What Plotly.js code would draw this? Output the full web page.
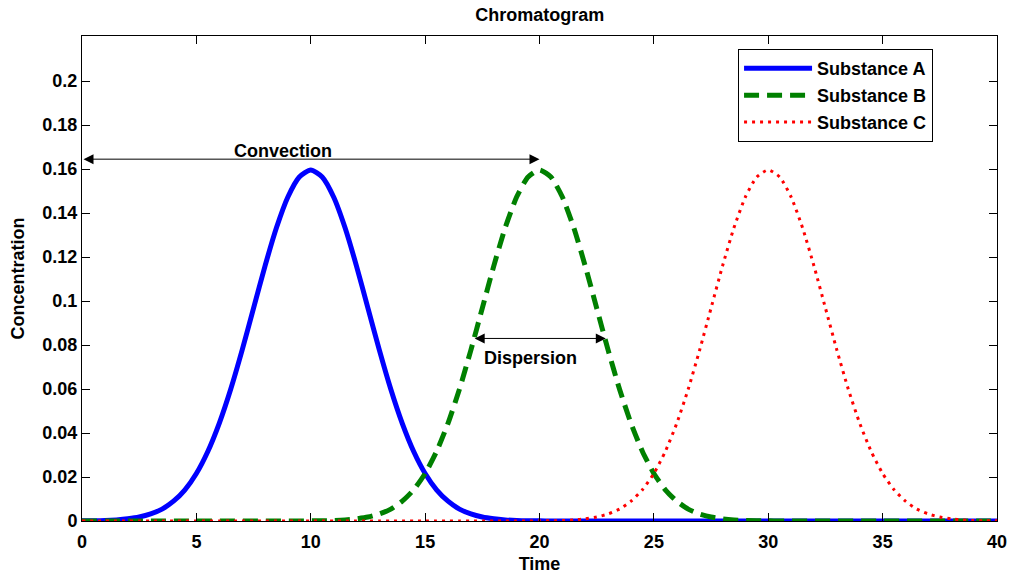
<!DOCTYPE html>
<html>
<head>
<meta charset="utf-8">
<script src="https://cdn.plot.ly/plotly-3.0.1.min.js"></script>
<style>html,body{margin:0;padding:0;background:#fff;}#chart{width:1009px;height:574px;}</style>
</head>
<body>
<div id="chart"></div>
<script>
// Time axis samples
const time = [0,0.5,1,1.5,2,2.5,3,3.5,4,4.5,5,5.5,6,6.5,7,7.5,8,8.5,9,9.5,
  10,10.5,11,11.5,12,12.5,13,13.5,14,14.5,15,15.5,16,16.5,17,17.5,18,18.5,19,19.5,
  20,20.5,21,21.5,22,22.5,23,23.5,24,24.5,25,25.5,26,26.5,27,27.5,28,28.5,29,29.5,
  30,30.5,31,31.5,32,32.5,33,33.5,34,34.5,35,35.5,36,36.5,37,37.5,38,38.5,39,39.5,40];
// Concentrations
const substanceA = [0.0001,0.0001,0.0002,0.0005,0.0010,0.0018,0.0032,0.0054,0.0090,0.0142,
  0.0216,0.0316,0.0444,0.0599,0.0777,0.0968,0.1159,0.1333,0.1473,0.1564,
  0.1596,0.1564,0.1473,0.1333,0.1159,0.0968,0.0777,0.0599,0.0444,0.0316,
  0.0216,0.0142,0.0090,0.0054,0.0032,0.0018,0.0010,0.0005,0.0002,0.0001,
  0.0001,0,0,0,0,0,0,0,0,0,
  0,0,0,0,0,0,0,0,0,0,
  0,0,0,0,0,0,0,0,0,0,
  0,0,0,0,0,0,0,0,0,0,0];
const substanceB = [0,0,0,0,0,0,0,0,0,0,
  0,0,0,0,0,0,0,0,0,0,
  0.0001,0.0001,0.0002,0.0005,0.0010,0.0018,0.0032,0.0054,0.0090,0.0142,
  0.0216,0.0316,0.0444,0.0599,0.0777,0.0968,0.1159,0.1333,0.1473,0.1564,
  0.1596,0.1564,0.1473,0.1333,0.1159,0.0968,0.0777,0.0599,0.0444,0.0316,
  0.0216,0.0142,0.0090,0.0054,0.0032,0.0018,0.0010,0.0005,0.0002,0.0001,
  0.0001,0,0,0,0,0,0,0,0,0,
  0,0,0,0,0,0,0,0,0,0,0];
const substanceC = [0,0,0,0,0,0,0,0,0,0,
  0,0,0,0,0,0,0,0,0,0,
  0,0,0,0,0,0,0,0,0,0,
  0,0,0,0,0,0,0,0,0,0,
  0.0001,0.0001,0.0002,0.0005,0.0010,0.0018,0.0032,0.0054,0.0090,0.0142,
  0.0216,0.0316,0.0444,0.0599,0.0777,0.0968,0.1159,0.1333,0.1473,0.1564,
  0.1596,0.1564,0.1473,0.1333,0.1159,0.0968,0.0777,0.0599,0.0444,0.0316,
  0.0216,0.0142,0.0090,0.0054,0.0032,0.0018,0.0010,0.0005,0.0002,0.0001,0.0001];
const seriesNames = ["Substance A","Substance B","Substance C"];
const xTicks = [0,5,10,15,20,25,30,35,40];
const yTicks = [0,0.02,0.04,0.06,0.08,0.1,0.12,0.14,0.16,0.18,0.2];
const yTickText = ["0","0.02","0.04","0.06","0.08","0.1","0.12","0.14","0.16","0.18","0.2"];
// Annotation arrows (data coordinates)
const convection = {x0:0, x1:20, y:0.1645, label:"Convection", lx:8.8, ly:0.168};
const dispersion = {x0:17.1, x1:22.9, y:0.083, label:"Dispersion", lx:19.6, ly:0.0742};

const font = "Liberation Sans, Arial, sans-serif";
const traces = [
  {x:time, y:substanceA, name:seriesNames[0], legendgroup:"a", mode:"lines", line:{color:"#0000ff", width:5, shape:"spline", smoothing:0.6}},
  {x:time, y:substanceB, name:seriesNames[1], legendgroup:"b", mode:"lines", line:{color:"#008000", width:5, dash:"15px,8px", shape:"spline", smoothing:0.6}},
  {x:time, y:substanceC, name:seriesNames[2], legendgroup:"c", mode:"lines", line:{color:"#ff0000", width:3, dash:"3px,5px", shape:"spline", smoothing:0.6}}
];
function arrow(a){
  return {x:a.x1, y:a.y, ax:a.x0, ay:a.y, xref:"x", yref:"y", axref:"x", ayref:"y",
    showarrow:true, arrowside:"end+start", arrowhead:2, arrowsize:2, arrowwidth:1, arrowcolor:"#000", text:""};
}
function label(a){
  return {x:a.lx, y:a.ly, xref:"x", yref:"y", text:a.label, showarrow:false,
    font:{family:font, size:18, color:"#000", weight:"bold"}};
}
const bold18 = {family:font, size:18, color:"#000", weight:"bold"};
const layout = {
  width:1009, height:574,
  margin:{l:82, r:12, t:36, b:53},
  paper_bgcolor:"#fff", plot_bgcolor:"#fff",
  title:{text:"Chromatogram", x:0.535, xanchor:"center", y:0.975, yanchor:"middle", font:bold18},
  showlegend:true,
  legend:{x:0.717, y:0.973, xanchor:"left", yanchor:"top", bgcolor:"#fff", bordercolor:"#000", borderwidth:1,
    font:bold18, traceorder:"grouped", tracegroupgap:0.5, itemwidth:68},
  xaxis:{range:[0,40], tickvals:xTicks, ticks:"inside", ticklen:8, tickcolor:"#000", showline:true, linecolor:"#000", linewidth:1,
    mirror:"ticks", showgrid:false, zeroline:false, tickfont:bold18, ticklabelstandoff:4,
    title:{text:"Time", font:bold18, standoff:6}},
  yaxis:{range:[0,0.2205], tickvals:yTicks, ticktext:yTickText, ticks:"inside", ticklen:8, tickcolor:"#000", showline:true, linecolor:"#000", linewidth:1,
    mirror:"ticks", showgrid:false, zeroline:false, tickfont:bold18,
    title:{text:"Concentration", font:bold18, standoff:13}},
  annotations:[arrow(convection), label(convection), arrow(dispersion), label(dispersion)]
};
Plotly.newPlot("chart", traces, layout, {displayModeBar:false, staticPlot:true});
</script>
</body>
</html>
